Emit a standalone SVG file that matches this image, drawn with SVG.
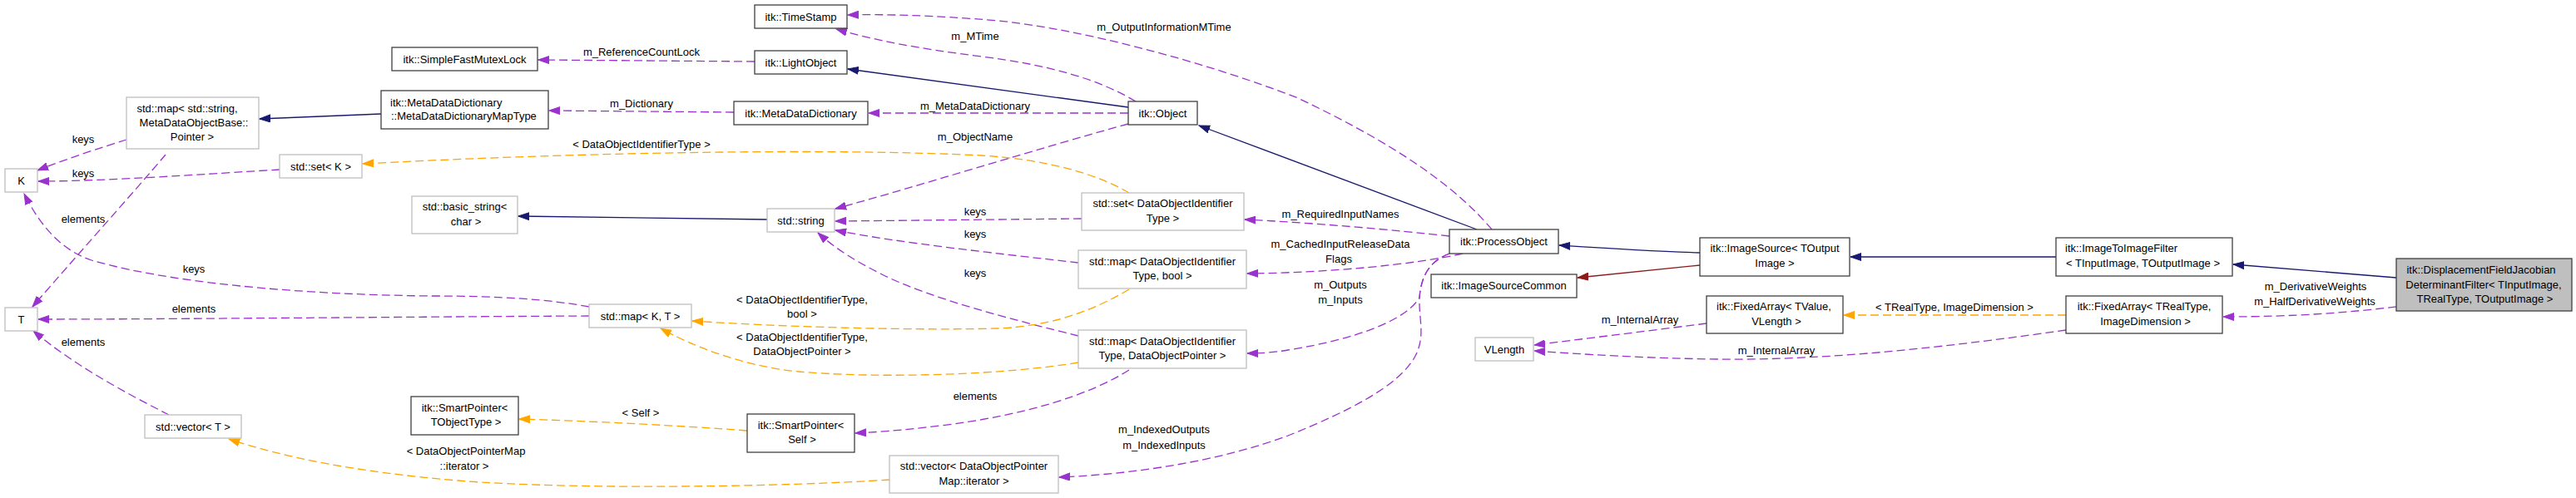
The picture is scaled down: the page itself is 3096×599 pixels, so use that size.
<svg xmlns="http://www.w3.org/2000/svg" width="3096" height="599" viewBox="0 0 3096 599">
<style>
text{font-family:"Liberation Sans",Arial,Helvetica,sans-serif;font-size:13px;fill:#000}
.c{text-anchor:middle}
.s{text-anchor:start}
.n rect{fill:#fff;stroke:#404040;stroke-width:1.3}
.u rect{fill:#fff;stroke:#bfbfbf;stroke-width:1.3}
.f rect{fill:#bfbfbf;stroke:#404040;stroke-width:1.3}
.inh{fill:none;stroke:#191970;stroke-width:1.3;marker-end:url(#mN)}
.prv{fill:none;stroke:#8b1a1a;stroke-width:1.3;marker-end:url(#mR)}
.use{fill:none;stroke:#9a32cd;stroke-width:1.3;stroke-dasharray:10,5;marker-end:url(#mP)}
.tpl{fill:none;stroke:#ffa500;stroke-width:1.3;stroke-dasharray:10,5;marker-end:url(#mO)}
</style>
<defs>
<marker id="mN" markerUnits="userSpaceOnUse" markerWidth="14" markerHeight="10" refX="13" refY="5" orient="auto"><path d="M0,0.5 L13,5 L0,9.5 z" fill="#191970" stroke="#191970"/></marker>
<marker id="mR" markerUnits="userSpaceOnUse" markerWidth="14" markerHeight="10" refX="13" refY="5" orient="auto"><path d="M0,0.5 L13,5 L0,9.5 z" fill="#8b1a1a" stroke="#8b1a1a"/></marker>
<marker id="mP" markerUnits="userSpaceOnUse" markerWidth="14" markerHeight="10" refX="13" refY="5" orient="auto"><path d="M0,0.5 L13,5 L0,9.5 z" fill="#9a32cd" stroke="#9a32cd"/></marker>
<marker id="mO" markerUnits="userSpaceOnUse" markerWidth="14" markerHeight="10" refX="13" refY="5" orient="auto"><path d="M0,0.5 L13,5 L0,9.5 z" fill="#ffa500" stroke="#ffa500"/></marker>
</defs>
<rect x="0" y="0" width="3096" height="599" fill="#fff"/>
<g id="edges">
<g id="e-mapstr-K"><path class="use" d="M152,168 C120,178 80,191 45,205"/><text class="c" x="100" y="171.5">keys</text></g>
<g id="e-setK-K"><path class="use" d="M336,204 C250,209 130,218 46,218"/><text class="c" x="100" y="212.5">keys</text></g>
<g id="e-mapstr-T"><path class="use" d="M199,186 C160,232 90,310 39,369"/><text class="c" x="100" y="267.5">elements</text></g>
<g id="e-mapKT-K"><path class="use" d="M708,369 C660,360 600,356 520,356 C400,355 220,345 110,313 C70,300 45,265 29,233"/><text class="c" x="233" y="327.5">keys</text></g>
<g id="e-mapKT-T"><path class="use" d="M708,380 C500,381 200,384 46,384"/><text class="c" x="233" y="375.5">elements</text></g>
<g id="e-vecT-T"><path class="use" d="M203,499 C150,472 90,440 40,398"/><text class="c" x="100" y="415.5">elements</text></g>
<g id="e-mdd-map"><path class="inh" d="M458,137 L312,143"/></g>
<g id="e-lo-mutex"><path class="use" d="M907,74 L647,72"/><text class="c" x="771" y="66.5">m_ReferenceCountLock</text></g>
<g id="e-md-mddmap"><path class="use" d="M882,135 L660,133"/><text class="c" x="771" y="128.5">m_Dictionary</text></g>
<g id="e-setdoit-setK"><path class="tpl" d="M1357,232 C1320,210 1260,192 1180,187 C1000,178 700,183 436,197"/><text class="c" x="771" y="177.5">&lt; DataObjectIdentifierType &gt;</text></g>
<g id="e-str-bstr"><path class="inh" d="M922,264 L623,260"/></g>
<g id="e-obj-ts"><path class="use" d="M1365,122 C1320,95 1260,78 1180,68 C1100,58 1050,48 1005,35"/><text class="c" x="1172" y="47.5">m_MTime</text></g>
<g id="e-obj-lo"><path class="inh" d="M1356,129 L1019,83"/></g>
<g id="e-po-ts"><path class="use" d="M1793,276 C1750,225 1680,175 1560,118 C1450,75 1300,35 1200,25 C1120,18 1060,17 1019,18"/><text class="c" x="1399" y="36.5">m_OutputInformationMTime</text></g>
<g id="e-obj-md"><path class="use" d="M1356,136 L1044,136"/><text class="c" x="1172" y="131.5">m_MetaDataDictionary</text></g>
<g id="e-po-obj"><path class="inh" d="M1775,276 L1441,151"/></g>
<g id="e-obj-str"><path class="use" d="M1356,149 C1250,178 1100,225 1004,251"/><text class="c" x="1172" y="168.5">m_ObjectName</text></g>
<g id="e-setdoit-str"><path class="use" d="M1300,263 L1004,266"/><text class="c" x="1172" y="258.5">keys</text></g>
<g id="e-mapbool-str"><path class="use" d="M1296,316 C1200,305 1080,292 1004,277"/><text class="c" x="1172" y="285.5">keys</text></g>
<g id="e-mapdop-str"><path class="use" d="M1296,404 C1220,385 1120,360 1060,330 C1030,315 1005,300 983,280"/><text class="c" x="1172" y="332.5">keys</text></g>
<g id="e-mapbool-mapKT"><path class="tpl" d="M1357,348 C1320,370 1270,392 1200,395 C1080,398 920,392 832,386"/><text class="c" x="964" y="364.5">&lt; DataObjectIdentifierType,</text><text class="c" x="964" y="381.5">bool &gt;</text></g>
<g id="e-mapdop-mapKT"><path class="tpl" d="M1296,436 C1200,452 1050,455 960,447 C890,440 830,415 794,395"/><text class="c" x="964" y="409.5">&lt; DataObjectIdentifierType,</text><text class="c" x="964" y="426.5">DataObjectPointer &gt;</text></g>
<g id="e-spself-sp"><path class="tpl" d="M898,518 C820,512 700,506 624,504"/><text class="c" x="770" y="500.5">&lt; Self &gt;</text></g>
<g id="e-mapdop-spself"><path class="use" d="M1357,445 C1310,475 1230,500 1130,512 C1080,518 1050,520 1028,521"/><text class="c" x="1172" y="480.5">elements</text></g>
<g id="e-vecdop-vecT"><path class="tpl" d="M1069,577 C950,585 700,590 550,578 C430,568 340,550 275,528"/><text class="c" x="560" y="546.5">&lt; DataObjectPointerMap</text><text class="c" x="558" y="564.5">::iterator &gt;</text></g>
<g id="e-po-setdoit"><path class="use" d="M1742,284 C1680,277 1580,268 1496,264"/><text class="c" x="1611" y="261.5">m_RequiredInputNames</text></g>
<g id="e-po-mapbool"><path class="use" d="M1758,305 C1700,318 1600,328 1499,329"/><text class="c" x="1611" y="297.5">m_CachedInputReleaseData</text><text class="c" x="1609" y="315.5">Flags</text></g>
<g id="e-po-mapdop"><path class="use" d="M1742,305 C1718,314 1708,332 1706,358 C1690,385 1630,408 1548,421 C1530,424 1515,425 1499,425"/><text class="c" x="1611" y="346.5">m_Outputs</text><text class="c" x="1611" y="364.5">m_Inputs</text></g>
<g id="e-po-vecdop"><path class="use" d="M1742,305 C1718,314 1708,332 1706,358 C1705,385 1714,405 1700,430 C1680,465 1620,495 1548,524 C1470,553 1370,570 1273,574"/><text class="c" x="1399" y="520.5">m_IndexedOutputs</text><text class="c" x="1399" y="539.5">m_IndexedInputs</text></g>
<g id="e-is-po"><path class="inh" d="M2043,304 C1980,302 1920,298 1874,295"/></g>
<g id="e-is-isc"><path class="prv" d="M2043,319 L1896,334"/></g>
<g id="e-fa1-vl"><path class="use" d="M2051,389 C1980,398 1900,408 1844,415"/><text class="c" x="1971" y="388.5">m_InternalArray</text></g>
<g id="e-fa2-vl"><path class="use" d="M2483,397 C2350,416 2200,434 2064,432 C1980,431 1900,426 1844,422"/><text class="c" x="2135" y="425.5">m_InternalArray</text></g>
<g id="e-fa2-fa1"><path class="tpl" d="M2483,379 L2216,379"/><text class="c" x="2349" y="373.5">&lt; TRealType, ImageDimension &gt;</text></g>
<g id="e-itif-is"><path class="inh" d="M2471,309 L2224,309"/></g>
<g id="e-dfj-itif"><path class="inh" d="M2880,334 L2684,318"/></g>
<g id="e-dfj-fa2"><path class="use" d="M2880,369 C2820,376 2760,381 2672,381"/><text class="c" x="2783" y="348.5">m_DerivativeWeights</text><text class="c" x="2782" y="366.5">m_HalfDerivativeWeights</text></g>
</g>
<g id="node-K" class="u"><rect x="6" y="203" width="39" height="28"/><text class="c" x="25.5" y="221.5">K</text></g>
<g id="node-mapstr" class="u"><rect x="152" y="117" width="159" height="62"/><text class="c" x="225" y="134.5">std::map&lt; std::string,</text><text class="c" x="233" y="151.5">MetaDataObjectBase::</text><text class="c" x="231" y="168.5">Pointer &gt;</text></g>
<g id="node-mutex" class="n"><rect x="471" y="57" width="175" height="28"/><text class="c" x="558.5" y="75.5">itk::SimpleFastMutexLock</text></g>
<g id="node-mddmap" class="n"><rect x="458" y="109" width="201" height="46"/><text class="s" x="469" y="127.5">itk::MetaDataDictionary</text><text class="s" x="470" y="144">::MetaDataDictionaryMapType</text></g>
<g id="node-ts" class="n"><rect x="907" y="6" width="111" height="28"/><text class="c" x="962.5" y="24.5">itk::TimeStamp</text></g>
<g id="node-lo" class="n"><rect x="907" y="61" width="111" height="28"/><text class="c" x="962.5" y="79.5">itk::LightObject</text></g>
<g id="node-md" class="n"><rect x="882" y="122" width="161" height="28"/><text class="c" x="962.5" y="140.5">itk::MetaDataDictionary</text></g>
<g id="node-setK" class="u"><rect x="336" y="186" width="99" height="28"/><text class="c" x="385.5" y="204.5">std::set&lt; K &gt;</text></g>
<g id="node-bstr" class="u"><rect x="495" y="236" width="127" height="45"/><text class="c" x="558.5" y="253">std::basic_string&lt;</text><text class="c" x="560" y="271">char &gt;</text></g>
<g id="node-str" class="u"><rect x="922" y="251" width="81" height="28"/><text class="c" x="962.5" y="269.5">std::string</text></g>
<g id="node-obj" class="n"><rect x="1356" y="122" width="83" height="28"/><text class="c" x="1397.5" y="140.5">itk::Object</text></g>
<g id="node-setdoit" class="u"><rect x="1300" y="232" width="195" height="45"/><text class="c" x="1397.5" y="249">std::set&lt; DataObjectIdentifier</text><text class="c" x="1397.5" y="267">Type &gt;</text></g>
<g id="node-mapbool" class="u"><rect x="1296" y="301" width="202" height="46"/><text class="c" x="1397" y="319">std::map&lt; DataObjectIdentifier</text><text class="c" x="1397" y="336">Type, bool &gt;</text></g>
<g id="node-mapdop" class="u"><rect x="1296" y="397" width="202" height="46"/><text class="c" x="1397" y="415">std::map&lt; DataObjectIdentifier</text><text class="c" x="1397" y="432">Type, DataObjectPointer &gt;</text></g>
<g id="node-vecdop" class="u"><rect x="1069" y="548" width="203" height="45"/><text class="c" x="1170.5" y="565">std::vector&lt; DataObjectPointer</text><text class="c" x="1170.5" y="582.5">Map::iterator &gt;</text></g>
<g id="node-T" class="u"><rect x="6" y="370" width="39" height="28"/><text class="c" x="25.5" y="388.5">T</text></g>
<g id="node-vecT" class="u"><rect x="174" y="499" width="116" height="28"/><text class="c" x="232" y="517.5">std::vector&lt; T &gt;</text></g>
<g id="node-mapKT" class="u"><rect x="708" y="366" width="123" height="28"/><text class="c" x="769.5" y="384.5">std::map&lt; K, T &gt;</text></g>
<g id="node-sp" class="n"><rect x="494" y="477" width="129" height="46"/><text class="c" x="558.5" y="495">itk::SmartPointer&lt;</text><text class="c" x="560" y="512">TObjectType &gt;</text></g>
<g id="node-spself" class="n"><rect x="898" y="498" width="129" height="46"/><text class="c" x="962.5" y="515.5">itk::SmartPointer&lt;</text><text class="c" x="964" y="532.5">Self &gt;</text></g>
<g id="node-po" class="n"><rect x="1742" y="276" width="131" height="29"/><text class="c" x="1807.5" y="294.5">itk::ProcessObject</text></g>
<g id="node-isc" class="n"><rect x="1720" y="330" width="175" height="28"/><text class="c" x="1807.5" y="348">itk::ImageSourceCommon</text></g>
<g id="node-vl" class="u"><rect x="1773" y="406" width="70" height="28"/><text class="c" x="1808" y="424.5">VLength</text></g>
<g id="node-is" class="n"><rect x="2043" y="286" width="180" height="46"/><text class="c" x="2133" y="303">itk::ImageSource&lt; TOutput</text><text class="c" x="2133" y="321">Image &gt;</text></g>
<g id="node-fa1" class="n"><rect x="2051" y="356" width="164" height="45"/><text class="c" x="2132" y="373">itk::FixedArray&lt; TValue,</text><text class="c" x="2135" y="391">VLength &gt;</text></g>
<g id="node-itif" class="n"><rect x="2471" y="286" width="212" height="46"/><text class="s" x="2482" y="303">itk::ImageToImageFilter</text><text class="s" x="2483" y="321">&lt; TInputImage, TOutputImage &gt;</text></g>
<g id="node-fa2" class="n"><rect x="2483" y="356" width="188" height="45"/><text class="c" x="2577" y="373">itk::FixedArray&lt; TRealType,</text><text class="c" x="2578.5" y="391">ImageDimension &gt;</text></g>
<g id="node-dfj" class="f"><rect x="2880" y="311" width="211" height="63"/><text class="c" x="2982" y="329">itk::DisplacementFieldJacobian</text><text class="c" x="2985" y="346.5">DeterminantFilter&lt; TInputImage,</text><text class="c" x="2986.5" y="363.5">TRealType, TOutputImage &gt;</text></g>
</svg>
